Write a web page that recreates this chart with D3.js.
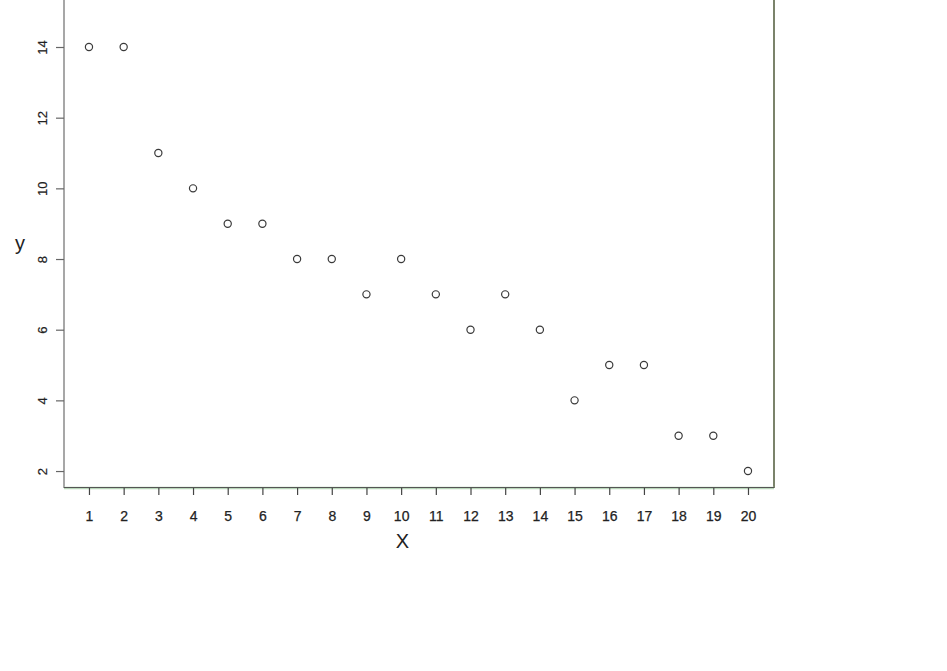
<!DOCTYPE html>
<html>
<head>
<meta charset="utf-8">
<script src="https://cdn.jsdelivr.net/npm/d3@7"></script>
<style>
  html, body { margin: 0; padding: 0; background: #fff; }
  svg { display: block; }
  text { font-family: "Liberation Sans", Arial, sans-serif; }
</style>
</head>
<body>
<script>
const xValues = [1,2,3,4,5,6,7,8,9,10,11,12,13,14,15,16,17,18,19,20];
const yValues = [14,14,11,10,9,9,8,8,7,8,7,6,7,6,4,5,5,3,3,2];
const xTicks = [1,2,3,4,5,6,7,8,9,10,11,12,13,14,15,16,17,18,19,20];
const yTicks = [2,4,6,8,10,12,14];

const W = 947, H = 671;
const mLeft = 64, mRight = 774, mBottom = 488, mTop = -6;

const svg = d3.select("body").append("svg").attr("width", W).attr("height", H);

const x = d3.scaleLinear().domain([0.28, 20.75]).range([mLeft, mRight]);
const y = d3.scaleLinear().domain([1.52, 15.5]).range([mBottom, mTop]);

// frame
svg.append("line").attr("x1", mLeft).attr("x2", mLeft).attr("y1", mTop).attr("y2", mBottom)
  .attr("stroke", "#8a8a8a").attr("stroke-width", 1.5);
svg.append("line").attr("x1", mRight).attr("x2", mRight).attr("y1", mTop).attr("y2", mBottom)
  .attr("stroke", "#4f5a3a").attr("stroke-width", 1.5);
svg.append("line").attr("x1", mLeft).attr("x2", mRight).attr("y1", mBottom).attr("y2", mBottom)
  .attr("stroke", "#b9d6b9").attr("stroke-width", 2.5);
svg.append("line").attr("x1", mLeft).attr("x2", mRight).attr("y1", mBottom - 0.5).attr("y2", mBottom - 0.5)
  .attr("stroke", "#555").attr("stroke-width", 1);

// x axis
const xAxis = svg.append("g").attr("transform", `translate(0,${mBottom})`)
  .call(d3.axisBottom(x).tickValues(xTicks).tickSize(7).tickPadding(16).tickFormat(d3.format("d")));
xAxis.select(".domain").remove();
xAxis.selectAll(".tick line").attr("stroke", "#444").attr("stroke-width", 1.2);
xAxis.selectAll(".tick text").attr("font-size", 14).attr("fill", "#222")
  .attr("stroke", "#222").attr("stroke-width", 0.25)
  .attr("font-family", "'Liberation Sans', Arial, sans-serif");

// y axis
const yAxis = svg.append("g").attr("transform", `translate(${mLeft},0)`)
  .call(d3.axisLeft(y).tickValues(yTicks).tickSize(8).tickPadding(0).tickFormat(d3.format("d")));
yAxis.select(".domain").remove();
yAxis.selectAll(".tick line").attr("stroke", "#666").attr("stroke-width", 1.2);
yAxis.selectAll(".tick text")
  .attr("font-size", 13).attr("fill", "#222")
  .attr("stroke", "#222").attr("stroke-width", 0.2)
  .attr("text-anchor", "middle")
  .attr("transform", "translate(-22,0) rotate(-90)")
  .attr("x", 0).attr("dy", "0.35em")
  .attr("font-family", "'Liberation Sans', Arial, sans-serif");

// axis titles
svg.append("text").attr("x", (x(10) + x(11)) / 2 - 16).attr("y", 548)
  .attr("text-anchor", "middle").attr("font-size", 20).attr("fill", "#222").text("X");
svg.append("text").attr("x", 20).attr("y", 250)
  .attr("text-anchor", "middle").attr("font-size", 20).attr("fill", "#222").text("y");

// points
svg.append("g").selectAll("circle").data(xValues.map((d, i) => [d, yValues[i]]))
  .join("circle")
  .attr("cx", d => x(d[0])).attr("cy", d => y(d[1])).attr("r", 3.6)
  .attr("fill", "none").attr("stroke", "#3a3a3a").attr("stroke-width", 1.2);
</script>
</body>
</html>
